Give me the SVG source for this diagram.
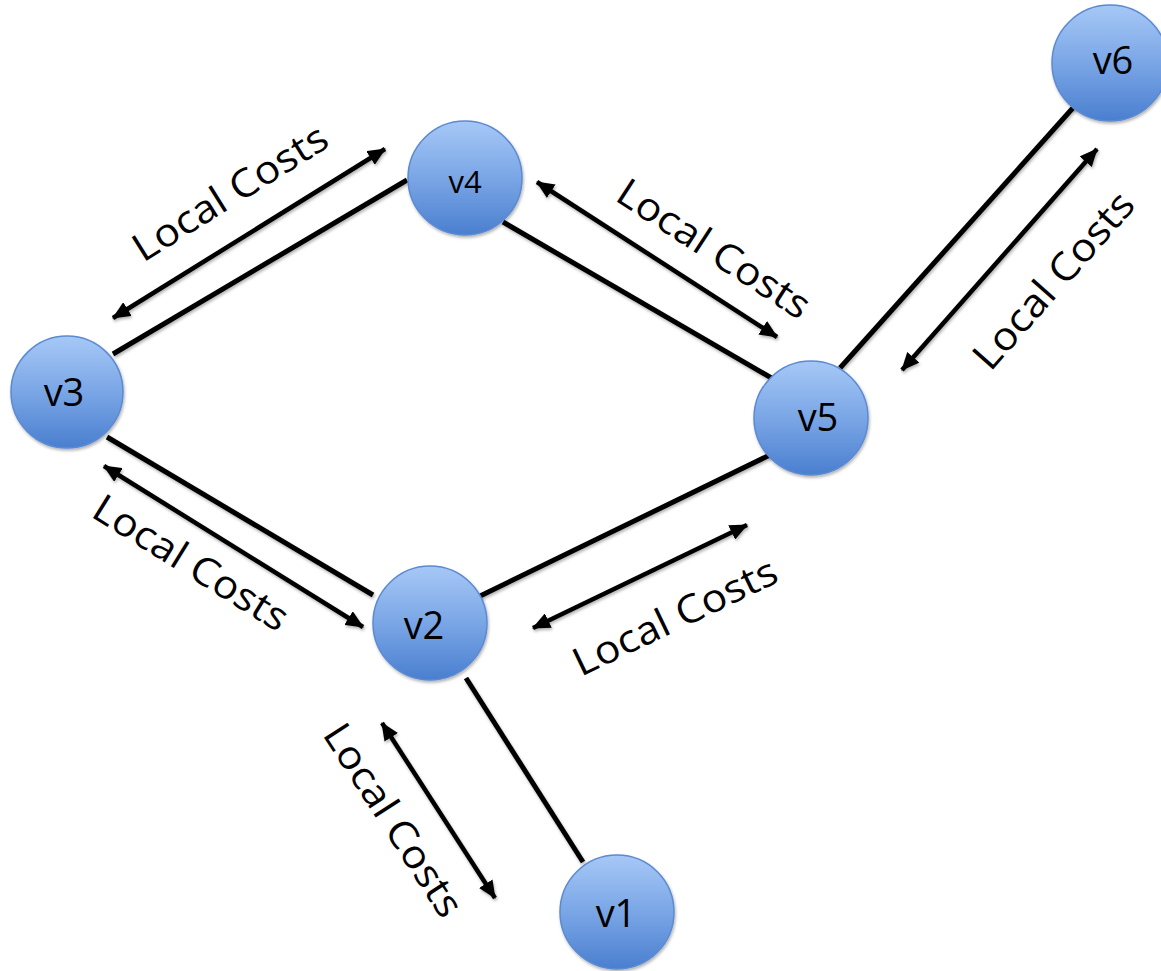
<svg xmlns="http://www.w3.org/2000/svg" width="1161" height="971" viewBox="0 0 1161 971">
<defs>
<linearGradient id="g" x1="0" y1="0" x2="0" y2="1">
<stop offset="0" stop-color="#a6c8f6"/>
<stop offset="0.5" stop-color="#7aa6e6"/>
<stop offset="1" stop-color="#4a7fcf"/>
</linearGradient>
<filter id="sh" x="-20%" y="-20%" width="140%" height="140%">
<feDropShadow dx="1" dy="2" stdDeviation="1.5" flood-color="#000" flood-opacity="0.3"/>
</filter>
<marker id="ah" viewBox="0 0 18 16" refX="17" refY="8" markerWidth="18" markerHeight="16" markerUnits="userSpaceOnUse" orient="auto-start-reverse">
<path d="M0,0 L18,8 L0,16 Z" fill="#000"/>
</marker>
<style>
.node{fill:url(#g);stroke:#5b8ad2;stroke-width:1.5;filter:url(#sh)}
.nt{font-family:"Open Sans","Liberation Sans",sans-serif;font-size:38px;fill:#000;text-anchor:middle;dominant-baseline:central}
.edge{stroke:#000;stroke-width:5;fill:none;filter:url(#sh)}
.arr{stroke:#000;stroke-width:4.5;fill:none;marker-start:url(#ah);marker-end:url(#ah);filter:url(#sh)}
.lbl{font-family:"Open Sans","Liberation Sans",sans-serif;font-size:39px;fill:#000;text-anchor:middle;dominant-baseline:central}
</style>
</defs>
<rect width="1161" height="971" fill="#fff"/>
<g id="connectors">
<line class="edge" x1="407" y1="180" x2="113" y2="354"/>
<line class="edge" x1="503" y1="222" x2="780" y2="383"/>
<line class="edge" x1="107" y1="437" x2="373" y2="595"/>
<line class="edge" x1="476" y1="598" x2="780" y2="450"/>
<line class="edge" x1="840" y1="368" x2="1080" y2="100"/>
<line class="edge" x1="466" y1="678" x2="583" y2="862"/>
<line class="arr" x1="113" y1="318" x2="385" y2="149"/>
<line class="arr" x1="537" y1="182" x2="777" y2="337"/>
<line class="arr" x1="902" y1="370" x2="1097" y2="149"/>
<line class="arr" x1="104" y1="466" x2="363" y2="627"/>
<line class="arr" x1="533" y1="628" x2="747" y2="525"/>
<line class="arr" x1="382" y1="723" x2="495" y2="898"/>
</g>
<g id="labels">
<text class="lbl" transform="translate(229,191) rotate(-32)" textLength="222" lengthAdjust="spacingAndGlyphs">Local Costs</text>
<text class="lbl" transform="translate(715,247) rotate(33)" textLength="222" lengthAdjust="spacingAndGlyphs">Local Costs</text>
<text class="lbl" transform="translate(1052,279) rotate(-48.6)" textLength="222" lengthAdjust="spacingAndGlyphs">Local Costs</text>
<text class="lbl" transform="translate(192,561) rotate(31.8)" textLength="222" lengthAdjust="spacingAndGlyphs">Local Costs</text>
<text class="lbl" transform="translate(674,615) rotate(-25.7)" textLength="222" lengthAdjust="spacingAndGlyphs">Local Costs</text>
<text class="lbl" transform="translate(395,819) rotate(57.1)" textLength="222" lengthAdjust="spacingAndGlyphs">Local Costs</text>
</g>
<g id="v1"><circle class="node" cx="617" cy="912" r="57"/><text class="nt" x="616" y="912">v1</text></g>
<g id="v2"><circle class="node" cx="430" cy="623" r="57"/><text class="nt" x="424" y="624">v2</text></g>
<g id="v3"><circle class="node" cx="67" cy="392" r="56"/><text class="nt" x="64" y="391">v3</text></g>
<g id="v4"><circle class="node" cx="465" cy="178" r="57"/><text class="nt" x="465" y="181" style="font-size:31px">v4</text></g>
<g id="v5"><circle class="node" cx="811" cy="418" r="57"/><text class="nt" x="818" y="416">v5</text></g>
<g id="v6"><circle class="node" cx="1110" cy="63" r="58"/><text class="nt" x="1113" y="59">v6</text></g>
</svg>
